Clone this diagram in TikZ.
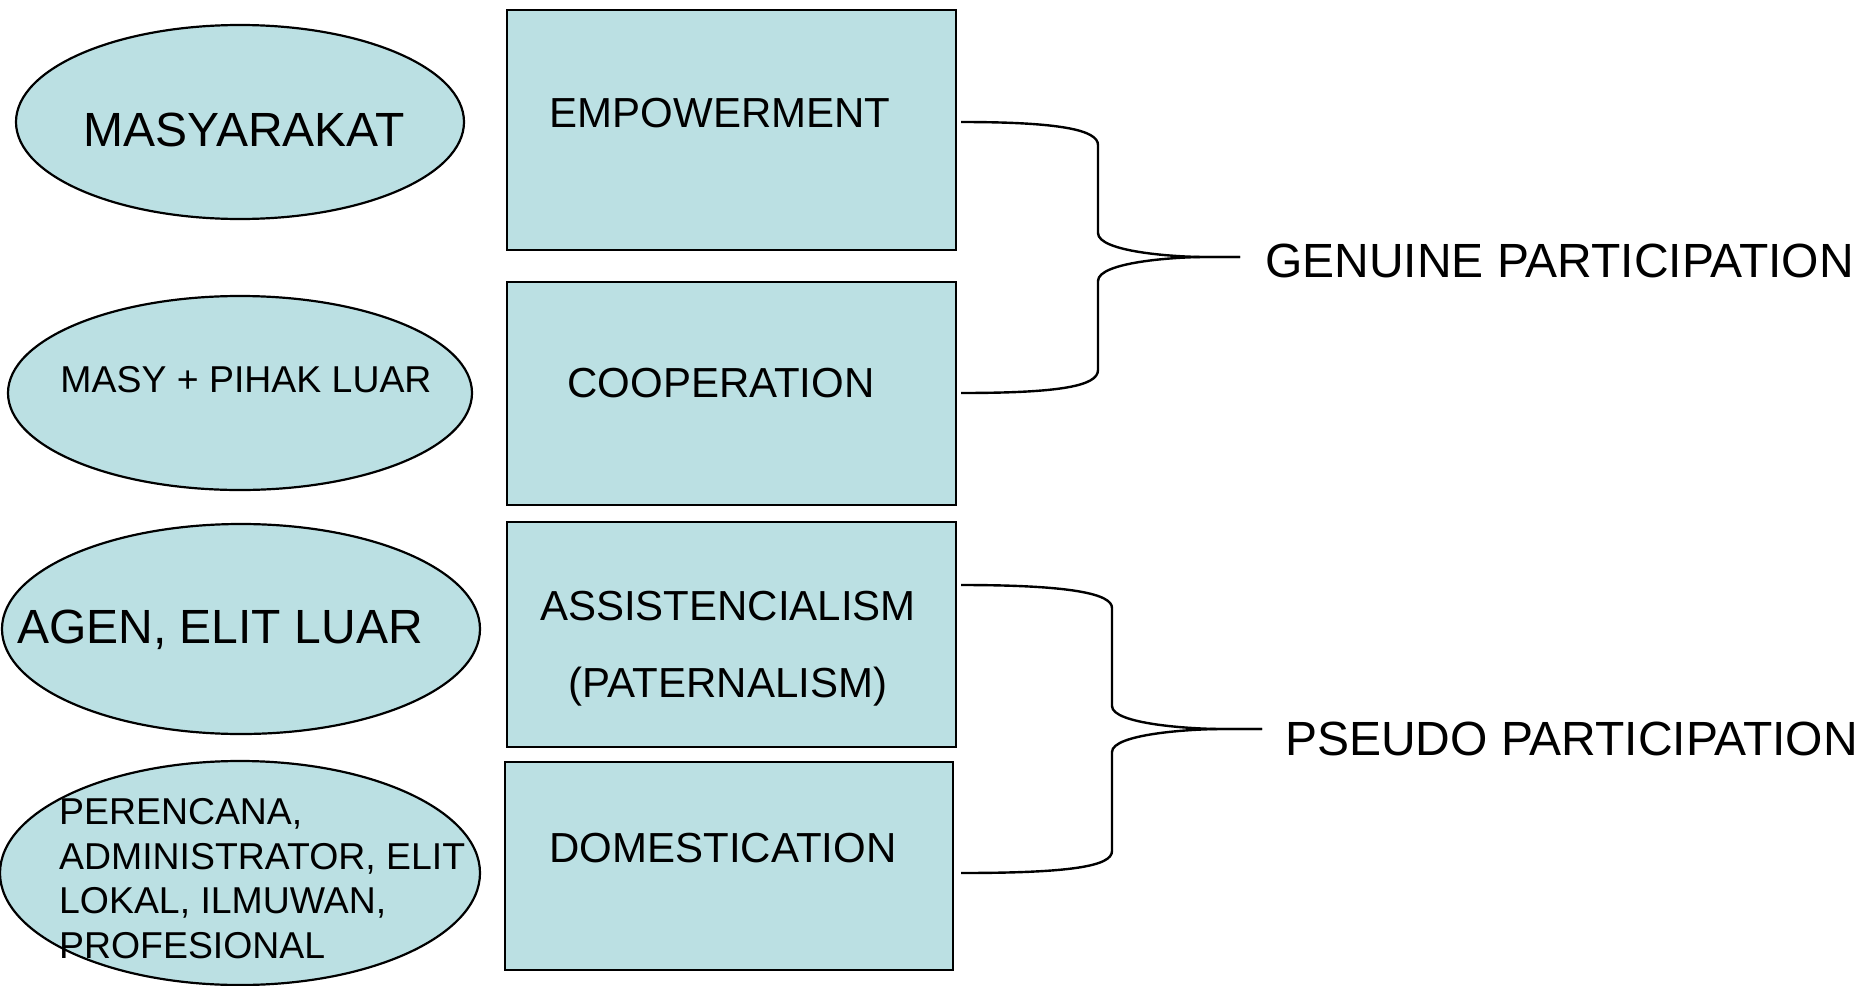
\documentclass[tikz,border=0pt]{standalone}
\usepackage{fontspec}
\setmainfont{Liberation Sans}
\usetikzlibrary{shapes.geometric}
\definecolor{cfill}{HTML}{BBE0E3}
\tikzset{
  oval/.style={ellipse, draw=black, line width=2.2pt, fill=cfill, inner sep=0pt},
  boxnode/.style={rectangle, draw=black, line width=2.8pt, fill=cfill, inner sep=0pt},
  bracepath/.style={draw=black, line width=2.4pt, line join=round},
  txt/.style={inner sep=0pt, anchor=base},
  fbig/.style={font=\fontsize{48pt}{56pt}\selectfont},
  fmid/.style={font=\fontsize{42pt}{50pt}\selectfont},
  fsmall/.style={font=\fontsize{37.4pt}{44.5pt}\selectfont},
  flabel/.style={font=\fontsize{48pt}{56pt}\selectfont},
}
\begin{document}
\begin{tikzpicture}[x=1pt,y=-1pt]
\useasboundingbox (0,0) rectangle (1876,985);
% ellipses
\node[oval, minimum width=448pt, minimum height=194pt] (e1) at (240,122) {};
\node[oval, minimum width=464pt, minimum height=194pt] (e2) at (240,393) {};
\node[oval, minimum width=478pt, minimum height=210pt] (e3) at (241,629) {};
\node[oval, minimum width=480pt, minimum height=224pt] (e4) at (240,873) {};
% boxes
\node[boxnode, minimum width=449pt, minimum height=240pt] (b1) at (731.5,130) {};
\node[boxnode, minimum width=449pt, minimum height=223pt] (b2) at (731.5,393.5) {};
\node[boxnode, minimum width=449pt, minimum height=225pt] (b3) at (731.5,634.5) {};
\node[boxnode, minimum width=448pt, minimum height=208pt] (b4) at (729,866) {};
% texts
\node[txt, fbig] (t1) at (244,146) {MASYARAKAT};
\node[txt, fsmall] (t2) at (246,392) {MASY + PIHAK LUAR};
\node[txt, fbig] (t3) at (220,643) {AGEN, ELIT LUAR};
\node[inner sep=0pt, anchor=north west, align=left, fsmall] (t4) at (59,798.5)
  {PERENCANA,\\ADMINISTRATOR, ELIT\\LOKAL, ILMUWAN,\\PROFESIONAL};
\node[txt, fmid] (s1) at (720,127) {EMPOWERMENT};
\node[txt, fmid] (s2) at (721,397) {COOPERATION};
\node[txt, fmid] (s3) at (728,620) {ASSISTENCIALISM};
\node[txt, fmid] (s3b) at (728,697) {(PATERNALISM)};
\node[txt, fmid] (s4) at (723,862) {DOMESTICATION};
% labels (text height chosen so that the west anchor meets the brace tip)
\node[anchor=base west, inner xsep=25pt, inner ysep=0pt, text height=40pt, text depth=0pt, flabel] (gp) at (1240,277) {GENUINE PARTICIPATION};
\node[anchor=base west, inner xsep=23pt, inner ysep=0pt, text height=52pt, text depth=0pt, flabel] (pp) at (1262,755) {PSEUDO PARTICIPATION};
% brace endpoints
\coordinate (g1a) at (961,122);
\coordinate (g1b) at (961,393);
\coordinate (p1a) at (961,585);
\coordinate (p1b) at (961,873);
% braces
\draw[bracepath] (g1a) .. controls (1060,122) and (1098,130) .. (1098,145)
  -- (1098,233) .. controls (1098,252) and (1175,257) .. (1205,257) -- (gp.west);
\draw[bracepath] (gp.west) -- (1205,257) .. controls (1175,257) and (1098,262) .. (1098,281)
  -- (1098,370) .. controls (1098,386) and (1060,393) .. (g1b);
\draw[bracepath] (p1a) .. controls (1072,585) and (1112,594) .. (1112,608)
  -- (1112,706) .. controls (1112,724) and (1190,729) .. (1222,729) -- (pp.west);
\draw[bracepath] (pp.west) -- (1222,729) .. controls (1190,729) and (1112,734) .. (1112,752)
  -- (1112,851) .. controls (1112,866) and (1072,873) .. (p1b);
\end{tikzpicture}
\end{document}
